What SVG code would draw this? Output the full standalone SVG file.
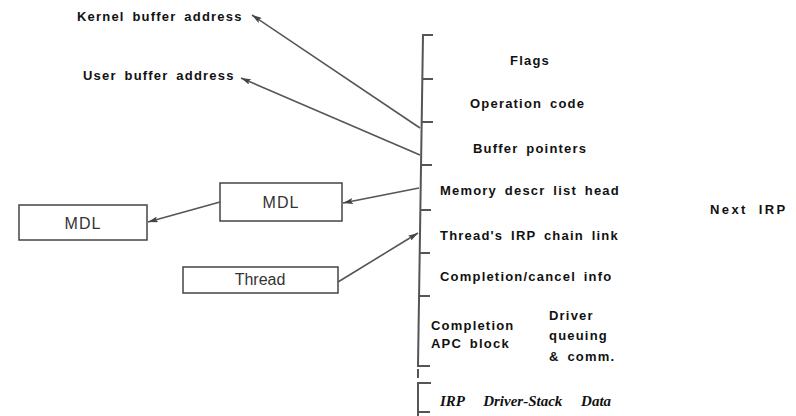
<svg xmlns="http://www.w3.org/2000/svg" width="796" height="416" viewBox="0 0 796 416">
<defs>
<style>
.lbl{font-family:"Liberation Sans",Arial,sans-serif;font-weight:bold;font-size:13px;letter-spacing:1.2px;word-spacing:3px;fill:#111}
.box{fill:#fff;stroke:#444;stroke-width:1.5}
.btxt{font-family:"Liberation Sans",Arial,sans-serif;font-size:16px;fill:#333;text-anchor:middle}
.con{stroke:#555;stroke-width:1.6;fill:none;marker-end:url(#ah)}
.irp{stroke:#555;stroke-width:2;fill:none}
.it{font-family:"Liberation Serif","Times New Roman",serif;font-weight:bold;font-style:italic;font-size:15px;word-spacing:15px;fill:#111}
</style>
<marker id="ah" viewBox="0 0 10 6" refX="10" refY="3" markerWidth="10" markerHeight="6" markerUnits="userSpaceOnUse" orient="auto">
<path d="M0,0 L10,3 L0,6 L2,3 Z" fill="#444"/>
</marker>
</defs>
<g id="irp">
<path class="irp" d="M433,35 H423 L418,366 H430"/>
<path class="irp" d="M423,79 H433 M422,122 H433 M421,165 H432 M420,210 H431 M419,253 H430 M418,296 H430"/>
<path class="irp" d="M418,369 V378"/>
<path class="irp" d="M431,383 H418 V416 M418,412 H430"/>
<text class="lbl" x="510" y="65">Flags</text>
<text class="lbl" x="470" y="108">Operation code</text>
<text class="lbl" x="473" y="153">Buffer pointers</text>
<text class="lbl" x="440" y="195">Memory descr list head</text>
<text class="lbl" x="440" y="240">Thread's IRP chain link</text>
<text class="lbl" x="440" y="281">Completion/cancel info</text>
<text class="lbl" x="431" y="330">Completion</text>
<text class="lbl" x="431" y="348">APC block</text>
<text class="lbl" x="549" y="320">Driver</text>
<text class="lbl" x="549" y="340">queuing</text>
<text class="lbl" x="549" y="361">&amp; comm.</text>
<text class="it" x="440" y="406">IRP Driver-Stack Data</text>
</g>
<g id="kernel-buffer"><text class="lbl" x="77" y="21">Kernel buffer address</text></g>
<g id="user-buffer"><text class="lbl" x="83" y="80">User buffer address</text></g>
<g id="next-irp"><text class="lbl" x="710" y="214" style="letter-spacing:2.4px;word-spacing:5px">Next IRP</text></g>
<g id="mdl1"><rect class="box" x="220" y="183" width="122" height="38"/><text class="btxt" x="281" y="208" letter-spacing="1">MDL</text></g>
<g id="mdl2"><rect class="box" x="19" y="205" width="128" height="35"/><text class="btxt" x="83" y="229" letter-spacing="1">MDL</text></g>
<g id="thread"><rect class="box" x="183" y="267" width="155" height="26"/><text class="btxt" x="260" y="285">Thread</text></g>
<g id="connectors">
<line class="con" x1="420" y1="128" x2="252" y2="15"/>
<line class="con" x1="420" y1="155" x2="241" y2="78"/>
<line class="con" x1="419" y1="188" x2="343" y2="203"/>
<line class="con" x1="220" y1="202" x2="148" y2="222"/>
<line class="con" x1="338" y1="282" x2="418" y2="233"/>
</g>
</svg>
